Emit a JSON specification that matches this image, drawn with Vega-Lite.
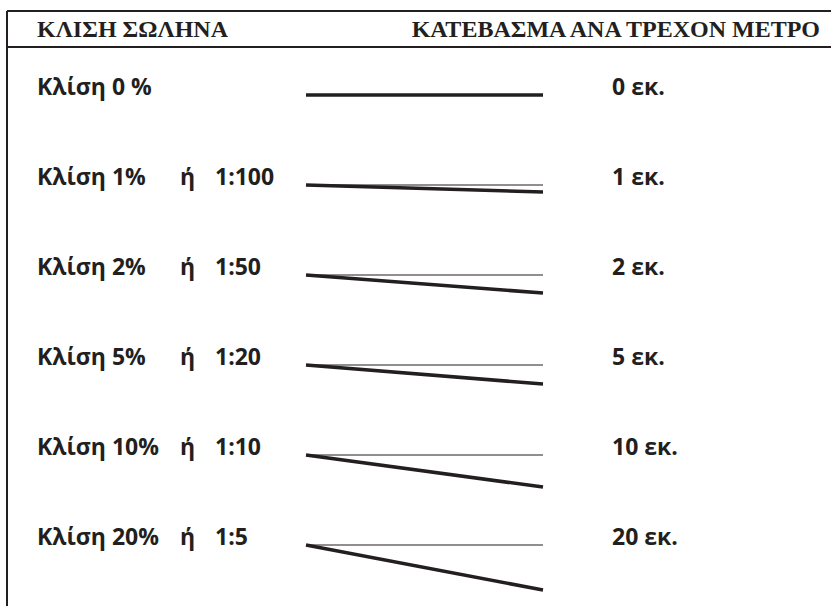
{
  "$schema": "https://vega.github.io/schema/vega-lite/v6.json",
  "width": 831,
  "height": 606,
  "padding": 0,
  "autosize": {"type": "none"},
  "background": "white",
  "config": {"view": {"stroke": null}},
  "datasets": {
    "slopes": [
      {"row": 0, "label": "Κλίση 0 %", "or": "", "ratio": "", "drop": "0 εκ.", "fall_end": 0},
      {"row": 1, "label": "Κλίση 1%", "or": "ή", "ratio": "1:100", "drop": "1 εκ.", "fall_end": 1.078},
      {"row": 2, "label": "Κλίση 2%", "or": "ή", "ratio": "1:50", "drop": "2 εκ.", "fall_end": 2.2},
      {"row": 3, "label": "Κλίση 5%", "or": "ή", "ratio": "1:20", "drop": "5 εκ.", "fall_end": 3.211},
      {"row": 4, "label": "Κλίση 10%", "or": "ή", "ratio": "1:10", "drop": "10 εκ.", "fall_end": 4.356},
      {"row": 5, "label": "Κλίση 20%", "or": "ή", "ratio": "1:5", "drop": "20 εκ.", "fall_end": 5.5}
    ],
    "headers": [
      {"title": "ΚΛΙΣΗ ΣΩΛΗΝΑ", "side": "left"},
      {"title": "ΚΑΤΕΒΑΣΜΑ ΑΝΑ ΤΡΕΧΟΝ ΜΕΤΡΟ", "side": "right"}
    ]
  },
  "data": {"name": "slopes"},
  "layer": [
    {
      "data": {"values": [{}]},
      "mark": {"type": "rule", "stroke": "#231f20", "strokeWidth": 2},
      "encoding": {
        "x": {"datum": 7, "type": "quantitative", "scale": {"domain": [0, 831]}, "axis": null},
        "x2": {"datum": 831},
        "y": {"datum": -0.9333, "type": "quantitative", "scale": {"domain": [-1.0556, 5.6778], "reverse": true}, "axis": null}
      }
    },
    {
      "data": {"values": [{}]},
      "mark": {"type": "rule", "stroke": "#231f20", "strokeWidth": 2},
      "encoding": {
        "x": {"datum": 7, "type": "quantitative", "scale": {"domain": [0, 831]}, "axis": null},
        "x2": {"datum": 831},
        "y": {"datum": -0.5333, "type": "quantitative", "scale": {"domain": [-1.0556, 5.6778], "reverse": true}, "axis": null}
      }
    },
    {
      "data": {"values": [{}]},
      "mark": {"type": "rule", "stroke": "#231f20", "strokeWidth": 2},
      "encoding": {
        "x": {"datum": 7, "type": "quantitative", "scale": {"domain": [0, 831]}, "axis": null},
        "y": {"datum": -0.9333, "type": "quantitative", "scale": {"domain": [-1.0556, 5.6778], "reverse": true}, "axis": null},
        "y2": {"datum": 5.6778}
      }
    },
    {
      "data": {"name": "headers"},
      "transform": [{"filter": "datum.side === 'left'"}],
      "mark": {"type": "text", "align": "left", "baseline": "alphabetic", "font": "Liberation Serif", "fontWeight": "bold", "fontSize": 24, "fill": "#231f20"},
      "encoding": {
        "x": {"datum": 37, "type": "quantitative", "scale": {"domain": [0, 831]}, "axis": null},
        "y": {"datum": -0.6444, "type": "quantitative", "scale": {"domain": [-1.0556, 5.6778], "reverse": true}, "axis": null},
        "text": {"field": "title"}
      }
    },
    {
      "data": {"name": "headers"},
      "transform": [{"filter": "datum.side === 'right'"}],
      "mark": {"type": "text", "align": "right", "baseline": "alphabetic", "font": "Liberation Serif", "fontWeight": "bold", "fontSize": 24, "fill": "#231f20"},
      "encoding": {
        "x": {"datum": 820, "type": "quantitative", "scale": {"domain": [0, 831]}, "axis": null},
        "y": {"datum": -0.6444, "type": "quantitative", "scale": {"domain": [-1.0556, 5.6778], "reverse": true}, "axis": null},
        "text": {"field": "title"}
      }
    },
    {
      "transform": [{"filter": "datum.row > 0"}],
      "mark": {"type": "rule", "stroke": "#231f20", "strokeWidth": 1.2},
      "encoding": {
        "x": {"datum": 306, "type": "quantitative", "scale": {"domain": [0, 831]}, "axis": null},
        "x2": {"datum": 543},
        "y": {"field": "row", "type": "quantitative", "scale": {"domain": [-1.0556, 5.6778], "reverse": true}, "axis": null}
      }
    },
    {
      "mark": {"type": "rule", "stroke": "#231f20", "strokeWidth": 3.6},
      "encoding": {
        "x": {"datum": 306, "type": "quantitative", "scale": {"domain": [0, 831]}, "axis": null},
        "x2": {"datum": 543},
        "y": {"field": "row", "type": "quantitative", "scale": {"domain": [-1.0556, 5.6778], "reverse": true}, "axis": null},
        "y2": {"field": "fall_end"}
      }
    },
    {
      "mark": {"type": "text", "align": "left", "baseline": "alphabetic", "font": "Open Sans", "fontWeight": "bold", "fontSize": 23, "fill": "#231f20"},
      "encoding": {
        "x": {"datum": 37, "type": "quantitative", "scale": {"domain": [0, 831]}, "axis": null},
        "y": {"field": "row", "type": "quantitative", "scale": {"domain": [-1.0556, 5.6778], "reverse": true}, "axis": null},
        "text": {"field": "label"}
      }
    },
    {
      "mark": {"type": "text", "align": "left", "baseline": "alphabetic", "font": "Open Sans", "fontWeight": "bold", "fontSize": 23, "fill": "#231f20"},
      "encoding": {
        "x": {"datum": 180, "type": "quantitative", "scale": {"domain": [0, 831]}, "axis": null},
        "y": {"field": "row", "type": "quantitative", "scale": {"domain": [-1.0556, 5.6778], "reverse": true}, "axis": null},
        "text": {"field": "or"}
      }
    },
    {
      "mark": {"type": "text", "align": "left", "baseline": "alphabetic", "font": "Open Sans", "fontWeight": "bold", "fontSize": 23, "fill": "#231f20"},
      "encoding": {
        "x": {"datum": 215, "type": "quantitative", "scale": {"domain": [0, 831]}, "axis": null},
        "y": {"field": "row", "type": "quantitative", "scale": {"domain": [-1.0556, 5.6778], "reverse": true}, "axis": null},
        "text": {"field": "ratio"}
      }
    },
    {
      "mark": {"type": "text", "align": "left", "baseline": "alphabetic", "font": "Open Sans", "fontWeight": "bold", "fontSize": 23, "fill": "#231f20"},
      "encoding": {
        "x": {"datum": 612, "type": "quantitative", "scale": {"domain": [0, 831]}, "axis": null},
        "y": {"field": "row", "type": "quantitative", "scale": {"domain": [-1.0556, 5.6778], "reverse": true}, "axis": null},
        "text": {"field": "drop"}
      }
    }
  ]
}
